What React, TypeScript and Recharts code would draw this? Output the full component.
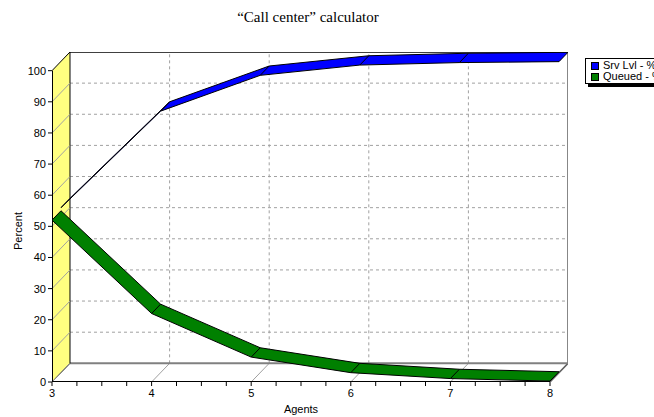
import { ComposedChart, Scatter, XAxis, YAxis } from "recharts";

const agents = [3, 4, 5, 6, 7, 8];
const srvLvl = [53, 84, 95.5, 98.8, 99.6, 99.9];
const queued = [52, 22, 8, 3, 1.1, 0.3];
const percentTicks = [0, 10, 20, 30, 40, 50, 60, 70, 80, 90, 100];
const gridAgents = [4, 5, 6, 7];
const gridPercents = [10, 20, 30, 40, 50, 60, 70, 80, 90];

const series = [
  { name: "Srv Lvl - %", color: "#0000ff" },
  { name: "Queued - %", color: "#008000" },
];

// 3D depth of the box, in data units (front plane is shifted down-left)
const DEPTH_X = 0.1807;
const DEPTH_Y = 6;

const xMin = agents[0];
const xMax = agents[agents.length - 1];
const minorTicks = agents.flatMap((a) =>
  a === xMax ? [a] : [a, a + 0.25, a + 0.5, a + 0.75]
);

type Pt = { x: number; y: number };

const noShape = () => <g />;

const poly = (key: string, pts: Pt[], line: object) => (
  <Scatter
    key={key}
    data={pts}
    line={line}
    lineType="joint"
    shape={noShape}
    legendType="none"
    isAnimationActive={false}
  />
);

// ribbon between a near edge (depth dn) and far edge (depth df), depth 0 = back, 1 = front
const ribbon = (vals: number[], dn: number, df: number): Pt[] => {
  const near = agents.map((a, i) => ({ x: a - DEPTH_X * dn, y: vals[i] - DEPTH_Y * dn }));
  const far = agents.map((a, i) => ({ x: a - DEPTH_X * df, y: vals[i] - DEPTH_Y * df }));
  return [...near, ...far.reverse(), near[0]];
};

const dividers = (key: string, vals: number[], dn: number, df: number) =>
  agents.slice(1, -1).map((a, i) =>
    poly(
      `${key}-div-${a}`,
      [
        { x: a - DEPTH_X * dn, y: vals[i + 1] - DEPTH_Y * dn },
        { x: a - DEPTH_X * df, y: vals[i + 1] - DEPTH_Y * df },
      ],
      { stroke: "#000", strokeWidth: 1 }
    )
  );

const font = "'Liberation Sans', Arial, sans-serif";

export default function App() {
  return (
    <div style={{ position: "relative", width: 654, height: 417, overflow: "hidden", background: "#fff" }}>
      <style>{`body{margin:0}`}</style>
      <div
        style={{
          position: "absolute",
          top: 9,
          left: 0,
          width: 616,
          textAlign: "center",
          fontFamily: "'Liberation Serif', 'Times New Roman', serif",
          fontSize: 15,
          color: "#000",
        }}
      >
        “Call center” calculator
      </div>
      <ComposedChart width={654} height={417} margin={{ top: 52, right: 86, left: 12, bottom: 10 }}>
        <XAxis
          type="number"
          dataKey="x"
          domain={[xMin - DEPTH_X, xMax]}
          allowDataOverflow
          ticks={minorTicks.map((v) => v - DEPTH_X)}
          interval={0}
          tickFormatter={(v: number) => {
            const a = v + DEPTH_X;
            return Math.abs(a - Math.round(a)) < 0.01 ? String(Math.round(a)) : "";
          }}
          axisLine={false}
          tickLine={{ stroke: "#000" }}
          tickSize={4}
          tickMargin={3}
          height={25}
          tick={{ fill: "#000", fontSize: 11, fontFamily: font }}
          label={{
            value: "Agents",
            content: (p: any) => (
              <text
                x={p.viewBox.x + (p.viewBox.width - 18) / 2}
                y={p.viewBox.y + 31}
                textAnchor="middle"
                fontSize={11}
                fontFamily={font}
                fill="#000"
              >
                Agents
              </text>
            ),
          }}
        />
        <YAxis
          type="number"
          dataKey="y"
          domain={[-DEPTH_Y, 100]}
          allowDataOverflow
          ticks={percentTicks.map((v) => v - DEPTH_Y)}
          interval={0}
          tickFormatter={(v: number) => String(Math.round(v + DEPTH_Y))}
          axisLine={false}
          tickLine={{ stroke: "#000" }}
          tickSize={4}
          tickMargin={2}
          width={40}
          tick={{ fill: "#000", fontSize: 11, fontFamily: font }}
          label={{
            value: "Percent",
            content: (p: any) => {
              const x = p.viewBox.x + 10;
              const y = p.viewBox.y + p.viewBox.height / 2 + 14;
              return (
                <text
                  x={x}
                  y={y}
                  transform={`rotate(-90 ${x} ${y})`}
                  textAnchor="middle"
                  fontSize={11}
                  fontFamily={font}
                  fill="#000"
                >
                  Percent
                </text>
              );
            },
          }}
        />

        {/* back wall grid */}
        {gridPercents.map((v) =>
          poly(`gh-${v}`, [{ x: xMin, y: v }, { x: xMax, y: v }], {
            stroke: "#a0a0a0",
            strokeDasharray: "3 3",
          })
        )}
        {gridAgents.map((a) =>
          poly(`gv-${a}`, [{ x: a, y: 0 }, { x: a, y: 100 }], {
            stroke: "#a0a0a0",
            strokeDasharray: "3 3",
          })
        )}
        {poly("back-top", [{ x: xMin, y: 100 }, { x: xMax, y: 100 }], { stroke: "#000", strokeWidth: 1.5 })}
        {poly(
          "back-right",
          [
            { x: xMax, y: 100 },
            { x: xMax, y: 0 },
            { x: xMax - DEPTH_X, y: -DEPTH_Y },
          ],
          { stroke: "#606060", strokeWidth: 1.5 }
        )}

        {/* floor */}
        {agents.slice(1, -1).map((a) =>
          poly(`fl-${a}`, [{ x: a - DEPTH_X, y: -DEPTH_Y }, { x: a, y: 0 }], { stroke: "#a0a0a0" })
        )}
        {poly("floor-back", [{ x: xMin, y: 0 }, { x: xMax, y: 0 }], { stroke: "#808080", strokeWidth: 2 })}

        {/* left wall */}
        {poly(
          "wall",
          [
            { x: xMin - DEPTH_X, y: -DEPTH_Y },
            { x: xMin - DEPTH_X, y: 100 - DEPTH_Y },
            { x: xMin, y: 100 },
            { x: xMin, y: 0 },
            { x: xMin - DEPTH_X, y: -DEPTH_Y },
          ],
          { fill: "#ffff80", stroke: "#000", strokeWidth: 1 }
        )}
        {gridPercents.map((v) =>
          poly(`wl-${v}`, [{ x: xMin - DEPTH_X, y: v - DEPTH_Y }, { x: xMin, y: v }], { stroke: "#a0a0a0" })
        )}
        {poly("wall-base", [{ x: xMin - DEPTH_X, y: -DEPTH_Y }, { x: xMin, y: 0 }], { stroke: "#a0a0a0" })}

        {/* front axes */}
        {poly(
          "front-axes",
          [
            { x: xMin - DEPTH_X, y: 100 - DEPTH_Y },
            { x: xMin - DEPTH_X, y: -DEPTH_Y },
            { x: xMax - DEPTH_X, y: -DEPTH_Y },
          ],
          { stroke: "#000", strokeWidth: 2 }
        )}

        {/* series ribbons: Srv Lvl in back half, Queued in front half */}
        {poly("srv", ribbon(srvLvl, 0.5, 0), { fill: series[0].color, stroke: "#000", strokeWidth: 1 })}
        {dividers("srv", srvLvl, 0.5, 0)}
        {poly("queued", ribbon(queued, 1, 0.5), { fill: series[1].color, stroke: "#000", strokeWidth: 1 })}
        {dividers("queued", queued, 1, 0.5)}
      </ComposedChart>

      <div
        style={{
          position: "absolute",
          left: 585,
          top: 58,
          width: 90,
          height: 24,
          border: "1px solid #000",
          background: "#fff",
          boxShadow: "3px 3px 0 #000",
          fontFamily: font,
          fontSize: 11,
          color: "#000",
        }}
      >
        {series.map((s, i) => (
          <div
            key={s.name}
            style={{
              position: "absolute",
              left: 5,
              top: i * 11,
              height: 12,
              lineHeight: "12px",
              whiteSpace: "nowrap",
            }}
          >
            <span
              style={{
                display: "inline-block",
                width: 6,
                height: 6,
                background: s.color,
                border: "1px solid #000",
                marginRight: 4,
                verticalAlign: "-1px",
              }}
            />
            {s.name}
          </div>
        ))}
      </div>
    </div>
  );
}
